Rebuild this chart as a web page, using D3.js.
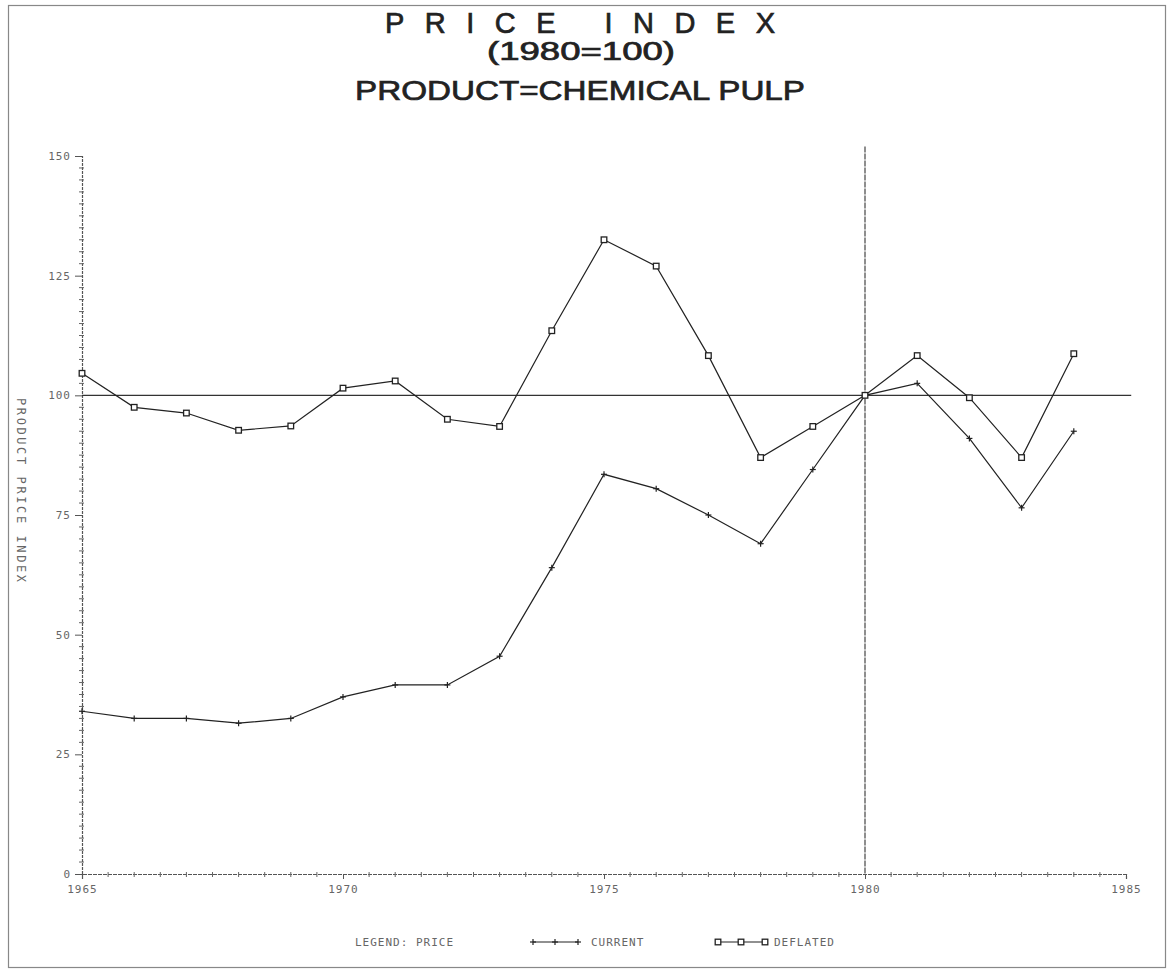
<!DOCTYPE html>
<html>
<head>
<meta charset="utf-8">
<script src="https://cdn.jsdelivr.net/npm/d3@7"></script>
<style>
  html, body { margin: 0; padding: 0; background: #fff; }
  svg { display: block; }
</style>
</head>
<body>
<script>
// ---- data ----
const years = [1965, 1966, 1967, 1968, 1969, 1970, 1971, 1972, 1973, 1974,
               1975, 1976, 1977, 1978, 1979, 1980, 1981, 1982, 1983, 1984];
const current = [34, 32.5, 32.5, 31.5, 32.5, 37, 39.5, 39.5, 45.5, 64,
                 83.5, 80.5, 75, 69, 84.5, 100, 102.5, 91, 76.5, 92.5];
const deflated = [104.6, 97.5, 96.3, 92.7, 93.6, 101.5, 103, 95, 93.5, 113.5,
                  132.5, 127, 108.3, 87, 93.5, 100, 108.3, 99.5, 87, 108.7];
const yTicks = [0, 25, 50, 75, 100, 125, 150];
const xTicks = [1965, 1970, 1975, 1980, 1985];
const titleLines = ["PRICE INDEX", "(1980=100)", "PRODUCT=CHEMICAL PULP"];
const yTitle = "PRODUCT PRICE INDEX";
const legendTitle = "LEGEND: PRICE";
const seriesNames = ["CURRENT", "DEFLATED"];

// ---- layout ----
const W = 1172, H = 971;
const svg = d3.select("body").append("svg").attr("width", W).attr("height", H);

svg.append("rect").attr("x", 8.5).attr("y", 5.5).attr("width", 1157).attr("height", 962)
  .attr("fill", "none").attr("stroke", "#888").attr("stroke-width", 1.2);

const x = d3.scaleLinear().domain([1965, 1985]).range([82, 1126]);
const y = d3.scaleLinear().domain([0, 150]).range([874, 156]);

const ink = "#222";
const tickFont = "'DejaVu Sans Mono', monospace";
const titleFont = "'Liberation Sans', Arial, sans-serif";

// titles
svg.append("text").attr("x", 580).attr("y", 33).attr("text-anchor", "middle")
  .attr("font-family", titleFont).attr("font-size", 29)
  .attr("textLength", 390).attr("lengthAdjust", "spacing")
  .attr("fill", ink).attr("stroke", ink).attr("stroke-width", 0.7).text(titleLines[0]);
svg.append("text").attr("x", 581).attr("y", 60).attr("text-anchor", "middle")
  .attr("font-family", titleFont).attr("font-size", 25)
  .attr("textLength", 188).attr("lengthAdjust", "spacingAndGlyphs")
  .attr("fill", ink).attr("stroke", ink).attr("stroke-width", 0.7).text(titleLines[1]);
svg.append("text").attr("x", 580).attr("y", 100).attr("text-anchor", "middle")
  .attr("font-family", titleFont).attr("font-size", 27)
  .attr("textLength", 450).attr("lengthAdjust", "spacingAndGlyphs")
  .attr("fill", ink).attr("stroke", ink).attr("stroke-width", 0.7).text(titleLines[2]);

// y axis
const yAxisG = svg.append("g").attr("transform", `translate(${x(1965)},0)`);
yAxisG.call(d3.axisLeft(y).tickValues(yTicks).tickSize(7).tickPadding(4))
  .call(g => g.select(".domain").attr("stroke", "#555").attr("stroke-width", 1.2).attr("stroke-dasharray", "3,1"))
  .call(g => g.selectAll(".tick line").attr("stroke", "#555"))
  .call(g => g.selectAll(".tick text").attr("font-family", tickFont).attr("font-size", 11)
        .attr("fill", "#666").attr("letter-spacing", 1));
const yMinor = d3.range(0, 150.01, 2.5).filter(v => v % 25 !== 0);
yAxisG.selectAll(".minor").data(yMinor).enter().append("line")
  .attr("x1", -3).attr("x2", 2).attr("y1", d => y(d)).attr("y2", d => y(d))
  .attr("stroke", "#666").attr("stroke-width", 1);

// x axis
const xAxisG = svg.append("g").attr("transform", `translate(0,${y(0)})`);
xAxisG.call(d3.axisBottom(x).tickValues(xTicks).tickFormat(d3.format("d")).tickSize(5).tickPadding(6))
  .call(g => g.select(".domain").attr("stroke", "#555").attr("stroke-width", 1.2).attr("stroke-dasharray", "4,1"))
  .call(g => g.selectAll(".tick line").attr("stroke", "#555"))
  .call(g => g.selectAll(".tick text").attr("font-family", tickFont).attr("font-size", 11)
        .attr("fill", "#666").attr("letter-spacing", 1));
const xMinor = d3.range(1965, 1985.01, 0.5).filter(v => v % 5 !== 0);
xAxisG.selectAll(".minor").data(xMinor).enter().append("line")
  .attr("x1", d => x(d)).attr("x2", d => x(d)).attr("y1", -2).attr("y2", 3)
  .attr("stroke", "#666").attr("stroke-width", 1);

// y axis title
svg.append("text")
  .attr("transform", `translate(17,${398}) rotate(90)`)
  .attr("font-family", tickFont).attr("font-size", 12).attr("fill", "#666")
  .attr("letter-spacing", 2.6).text(yTitle);

// reference lines
svg.append("line").attr("x1", x(1965)).attr("x2", x(1985.1))
  .attr("y1", y(100)).attr("y2", y(100)).attr("stroke", "#333").attr("stroke-width", 1.2);
svg.append("line").attr("x1", x(1980)).attr("x2", x(1980))
  .attr("y1", y(152)).attr("y2", y(0)).attr("stroke", "#444").attr("stroke-width", 1.2)
  .attr("stroke-dasharray", "6,1");

// series
const line = d3.line().x((d, i) => x(years[i])).y(d => y(d));
svg.append("path").datum(current).attr("d", line)
  .attr("fill", "none").attr("stroke", ink).attr("stroke-width", 1.2);
svg.append("path").datum(deflated).attr("d", line)
  .attr("fill", "none").attr("stroke", ink).attr("stroke-width", 1.2);

function plus(g, cx, cy, s) {
  g.append("line").attr("x1", cx - s).attr("x2", cx + s).attr("y1", cy).attr("y2", cy)
    .attr("stroke", ink).attr("stroke-width", 1.2);
  g.append("line").attr("x1", cx).attr("x2", cx).attr("y1", cy - s).attr("y2", cy + s)
    .attr("stroke", ink).attr("stroke-width", 1.2);
}
function square(g, cx, cy, s) {
  g.append("rect").attr("x", cx - s).attr("y", cy - s).attr("width", 2 * s).attr("height", 2 * s)
    .attr("fill", "#fff").attr("stroke", ink).attr("stroke-width", 1.3);
}
const mk = svg.append("g");
current.forEach((v, i) => plus(mk, x(years[i]), y(v), 3));
deflated.forEach((v, i) => square(mk, x(years[i]), y(v), 2.8));

// legend
const ly = 942;
const lg = svg.append("g");
lg.append("text").attr("x", 355).attr("y", ly + 4).attr("font-family", tickFont).attr("font-size", 11)
  .attr("fill", "#666").attr("letter-spacing", 1).text(legendTitle);
lg.append("line").attr("x1", 533).attr("x2", 578).attr("y1", ly).attr("y2", ly)
  .attr("stroke", ink).attr("stroke-width", 1.1);
[533, 555, 578].forEach(cx => plus(lg, cx, ly, 3));
lg.append("text").attr("x", 591).attr("y", ly + 4).attr("font-family", tickFont).attr("font-size", 11)
  .attr("fill", "#666").attr("letter-spacing", 1).text(seriesNames[0]);
lg.append("line").attr("x1", 718).attr("x2", 765).attr("y1", ly).attr("y2", ly)
  .attr("stroke", ink).attr("stroke-width", 1.1);
[718, 741, 765].forEach(cx => square(lg, cx, ly, 2.8));
lg.append("text").attr("x", 774).attr("y", ly + 4).attr("font-family", tickFont).attr("font-size", 11)
  .attr("fill", "#666").attr("letter-spacing", 1).text(seriesNames[1]);
</script>
</body>
</html>
